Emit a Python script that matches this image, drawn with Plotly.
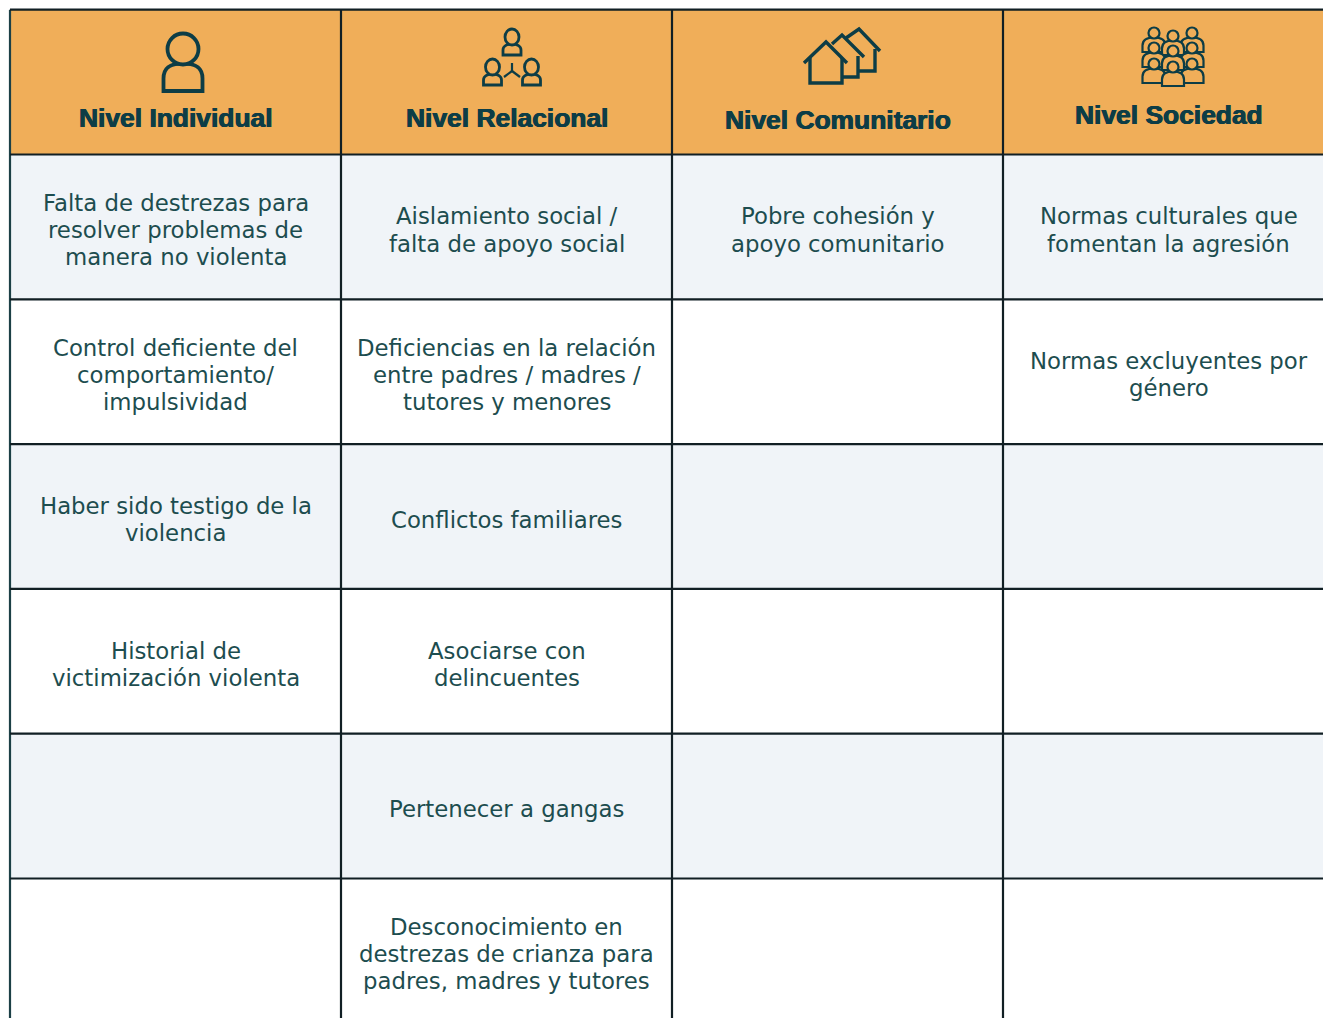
import plotly.graph_objects as go

# ---- data ----
levels = ["Nivel Individual", "Nivel Relacional", "Nivel Comunitario", "Nivel Sociedad"]
individual = [
    ["Falta de destrezas para", "resolver problemas de", "manera no violenta"],
    ["Control deficiente del", "comportamiento/", "impulsividad"],
    ["Haber sido testigo de la", "violencia"],
    ["Historial de", "victimización violenta"],
    [],
    [],
]
relacional = [
    ["Aislamiento social /", "falta de apoyo social"],
    ["Deficiencias en la relación", "entre padres / madres /", "tutores y menores"],
    ["Conflictos familiares"],
    ["Asociarse con", "delincuentes"],
    ["Pertenecer a gangas"],
    ["Desconocimiento en", "destrezas de crianza para", "padres, madres y tutores"],
]
comunitario = [["Pobre cohesión y", "apoyo comunitario"], [], [], [], [], []]
sociedad = [
    ["Normas culturales que", "fomentan la agresión"],
    ["Normas excluyentes por", "género"],
    [], [], [], [],
]
columns = [individual, relacional, comunitario, sociedad]

# ---- style ----
W, H = 1323, 1018
LEFT, TOP, COL_W, ROW_H = 10.0, 9.7, 331.0, 144.8
LINE_STEP = 27.2
HEAD_BG, ODD_BG, EVEN_BG = "#f0ae59", "#f0f4f8", "#ffffff"
GRID, INK, HEAD_INK = "#111f24", "#1d4d4f", "#0d3d46"
BODY_FONT = "DejaVu Sans"
HEAD_FONT = "Liberation Sans"

fx = lambda x: (x - LEFT) / COL_W
fy = lambda y: (y - TOP) / ROW_H
P = lambda x, y: f"{fx(x):.5f},{fy(y):.5f}"


def ellipse(cx, cy, rx, ry):
    k = 0.5523
    return (f"M{P(cx-rx,cy)} C{P(cx-rx,cy-k*ry)} {P(cx-k*rx,cy-ry)} {P(cx,cy-ry)} "
            f"C{P(cx+k*rx,cy-ry)} {P(cx+rx,cy-k*ry)} {P(cx+rx,cy)} "
            f"C{P(cx+rx,cy+k*ry)} {P(cx+k*rx,cy+ry)} {P(cx,cy+ry)} "
            f"C{P(cx-k*rx,cy+ry)} {P(cx-rx,cy+k*ry)} {P(cx-rx,cy)} Z")


def torso(cx, top, base, hw):
    mid = top + (base - top) * 0.55
    return (f"M{P(cx-hw,base)} L{P(cx-hw,mid)} C{P(cx-hw,top+2)} {P(cx-hw*0.5,top)} {P(cx,top)} "
            f"C{P(cx+hw*0.5,top)} {P(cx+hw,top+2)} {P(cx+hw,mid)} L{P(cx+hw,base)} Z")


def poly(points, close=False):
    s = "M" + " L".join(P(x, y) for x, y in points)
    return s + (" Z" if close else "")


shapes = []


def add_path(path, width=3, fill=None):
    shapes.append(dict(type="path", path=path, xref="x", yref="y",
                       line=dict(color=HEAD_INK, width=width),
                       fillcolor=fill if fill else "rgba(0,0,0,0)"))


# cells
for r in range(7):
    bg = HEAD_BG if r == 0 else (ODD_BG if r % 2 else EVEN_BG)
    shapes.append(dict(type="rect", xref="x", yref="y", x0=0, x1=4, y0=r, y1=r + 1,
                       fillcolor=bg, line=dict(width=0), layer="below"))
for c in range(5):
    shapes.append(dict(type="line", xref="x", yref="y", x0=c, x1=c, y0=0, y1=7,
                       line=dict(color=GRID if c else "#1c4046", width=2.2)))
for r in range(8):
    shapes.append(dict(type="line", xref="x", yref="y", x0=0, x1=4, y0=r, y1=r,
                       line=dict(color=GRID, width=2.2)))


def person(cx, head_cy, head_rx, head_ry, base, hw, width, fill=None):
    add_path(torso(cx, head_cy + head_ry - 1, base, hw), width, fill)
    add_path(ellipse(cx, head_cy, head_rx, head_ry), width, fill or HEAD_BG)


# individual icon
person(183, 49, 15.5, 15.5, 91, 19.5, 3.8)

# relational icon
person(512, 37, 7, 8, 55, 9, 2.8)
person(492.5, 67, 7, 8, 85, 9, 2.8)
person(531.5, 67, 7, 8, 85, 9, 2.8)
for end in [(512, 63), (504, 77), (520, 77)]:
    add_path(poly([(512, 71), end]), 2.2)

# community icon
add_path(poly([(875, 49), (875, 71), (857, 71)]), 3.4)
add_path(poly([(846, 38), (859, 29), (880, 51)]), 3.4)
add_path(poly([(858, 56), (858, 77), (842, 77)]), 3.4)
add_path(poly([(832, 44), (842, 35), (864, 57)]), 3.4)
add_path(poly([(804, 63), (826, 42), (847, 63)]), 3.4)
add_path(poly([(810, 58), (810, 83), (842, 83), (842, 58)]), 3.4)

# society icon
for head_y in [33, 48, 64]:
    for cx, off in [(1154, 0), (1192, 0), (1173, 3)]:
        y = head_y + off
        person(cx, y, 5.5, 5.5, y + 19, 11 if cx == 1173 else 11.5, 2.2, HEAD_BG)

# ---- text ----
annotations = []
header_y = [118, 118, 120, 115]
for c, name in enumerate(levels):
    annotations.append(dict(x=c + 0.5, y=fy(header_y[c]), text=f"<b>{name}</b>", showarrow=False,
                            xanchor="center", yanchor="middle",
                            font=dict(family=HEAD_FONT, size=26.4, color=HEAD_INK,
                                      shadow=f"0.5px 0 0 {HEAD_INK}, -0.5px 0 0 {HEAD_INK}")))
for c, col in enumerate(columns):
    for r, lines in enumerate(col):
        for i, line in enumerate(lines):
            offset = (i - (len(lines) - 1) / 2) * LINE_STEP
            annotations.append(dict(x=c + 0.5, y=r + 1.5, text=line, showarrow=False,
                                    yshift=-3 - offset,
                                    xanchor="center", yanchor="middle", align="center",
                                    font=dict(family=BODY_FONT, size=22.8, color=INK)))

fig = go.Figure()
fig.update_layout(
    width=W, height=H, margin=dict(l=0, r=0, t=0, b=0),
    paper_bgcolor="#ffffff", plot_bgcolor="#ffffff", showlegend=False,
    xaxis=dict(range=[-LEFT / COL_W, (W - LEFT) / COL_W], visible=False, fixedrange=True),
    yaxis=dict(range=[(H - TOP) / ROW_H, -TOP / ROW_H], visible=False, fixedrange=True),
    shapes=shapes, annotations=annotations,
)
fig.write_html("out.html", config=dict(displayModeBar=False),
               post_script="document.body.style.margin='0';")
